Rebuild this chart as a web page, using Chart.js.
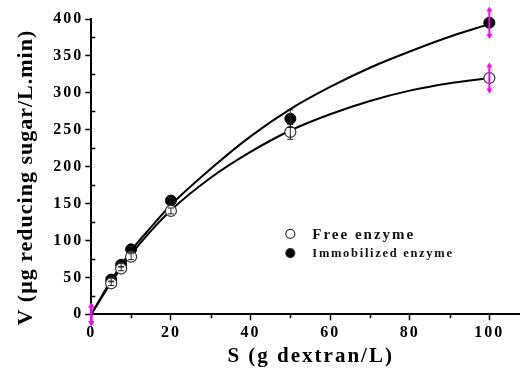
<!DOCTYPE html>
<html>
<head>
<meta charset="utf-8">
<script src="https://cdn.jsdelivr.net/npm/chart.js@4"></script>
<style>
    html, body { margin: 0; padding: 0; background: #fff; overflow: hidden; }
    #wrap { width: 520px; height: 369px; position: relative; }
</style>
</head>
<body>
<div id="wrap"><canvas id="myChart"></canvas></div>
<script>
// measured points
const sValues = [0, 5, 7.5, 10, 20, 50, 100];
const freeV = [0, 42, 62, 78, 140, 247, 320];
const immV = [0, 47, 67, 88, 154, 265, 395];
const freeErr = [12, 3, 3, 4, 4, 10, 17];
const immErr = [12, 3, 3, 4, 5, 12, 18];
const highlightS = [0, 100];

// fitted curves
const fitS = [0, 5, 10, 15, 20, 30, 40, 50, 60, 70, 80, 90, 100];
const freeFit = [0, 43, 81, 113, 141, 185, 220, 249, 271, 289, 303, 313, 320];
const immFit = [0, 46, 86, 118, 148, 197, 241, 278, 308, 334, 356, 376, 393];

const xTicks = [0, 20, 40, 60, 80, 100];
const xMinor = [10, 30, 50, 70, 90];
const yTicks = [0, 50, 100, 150, 200, 250, 300, 350, 400];
const yMinor = [25, 75, 125, 175, 225, 275, 325, 375];

const labels = ["Free enzyme", "Immobilized enzyme"];
const xTitle = "S (g dextran/L)";
const yTitle = "V (\u03bcg reducing sugar/L.min)";

const serif = "'Liberation Serif', 'Times New Roman', serif";

let pts = (xs, ys) => xs.map((x, i) => ({ x: x, y: ys[i] }));
let hideAtZero = (r) => (c) => (c.raw && c.raw.x === 0 ? 0 : r);

const extras = {
    id: "extras",
    beforeDraw(chart) {
        chart.ctx.letterSpacing = "2px";
    },
    afterDatasetsDraw(chart) {
        let ctx = chart.ctx;
        let xs = chart.scales.x, ys = chart.scales.y;
        ctx.save();
        [[freeV, freeErr], [immV, immErr]].forEach(([vals, errs]) => {
            sValues.forEach((s, i) => {
                let px = xs.getPixelForValue(s);
                let top = ys.getPixelForValue(vals[i] + errs[i]);
                let bot = ys.getPixelForValue(vals[i] - errs[i]);
                let hl = highlightS.includes(s);
                ctx.strokeStyle = hl ? "#ff00ff" : "#222";
                ctx.fillStyle = "#ff00ff";
                ctx.lineWidth = hl ? 2 : 1;
                ctx.beginPath();
                ctx.moveTo(px, top);
                ctx.lineTo(px, bot);
                ctx.stroke();
                if (hl) {
                    [[top, -1], [bot, 1]].forEach(([y, d]) => {
                        ctx.beginPath();
                        ctx.moveTo(px, y + d * 3);
                        ctx.lineTo(px - 3, y - d * 2);
                        ctx.lineTo(px + 3, y - d * 2);
                        ctx.closePath();
                        ctx.fill();
                    });
                } else {
                    ctx.beginPath();
                    ctx.moveTo(px - 3, top);
                    ctx.lineTo(px + 3, top);
                    ctx.moveTo(px - 3, bot);
                    ctx.lineTo(px + 3, bot);
                    ctx.stroke();
                }
            });
        });
        ctx.restore();
    },
    afterDraw(chart) {
        let ctx = chart.ctx;
        let xs = chart.scales.x, ys = chart.scales.y;
        let area = chart.chartArea;
        ctx.save();

        // minor ticks
        ctx.strokeStyle = "#000";
        ctx.lineWidth = 1.5;
        ctx.beginPath();
        xMinor.forEach(v => {
            let px = Math.round(xs.getPixelForValue(v)) + 0.5;
            ctx.moveTo(px, area.bottom);
            ctx.lineTo(px, area.bottom + 4);
        });
        yMinor.forEach(v => {
            let py = Math.round(ys.getPixelForValue(v)) + 0.5;
            ctx.moveTo(area.left, py);
            ctx.lineTo(area.left + 4, py);
        });
        ctx.stroke();

        // axis titles
        ctx.fillStyle = "#000";
        ctx.letterSpacing = "2px";
        ctx.font = "bold 21px " + serif;
        ctx.textAlign = "center";
        ctx.textBaseline = "alphabetic";
        ctx.fillText(xTitle, (area.left + area.right) / 2 + 5, area.bottom + 48);

        ctx.save();
        ctx.translate(area.left - 59, (area.top + area.bottom) / 2 + 11);
        ctx.rotate(-Math.PI / 2);
        ctx.letterSpacing = "1px";
        ctx.font = "bold 22px " + serif;
        ctx.fillText(yTitle, 0, 0);
        ctx.restore();

        // legend
        let lx = xs.getPixelForValue(50);
        let rows = [
            { y: ys.getPixelForValue(109), fill: "#fff", font: "bold 15px " + serif, spacing: "2px" },
            { y: ys.getPixelForValue(83), fill: "#000", font: "bold 12.5px " + serif, spacing: "1.7px" }
        ];
        rows.forEach((r, i) => {
            ctx.beginPath();
            ctx.arc(lx, r.y, 4.5, 0, Math.PI * 2);
            ctx.fillStyle = r.fill;
            ctx.fill();
            ctx.lineWidth = 1.2;
            ctx.strokeStyle = "#333";
            ctx.stroke();
            ctx.fillStyle = "#111";
            ctx.font = r.font;
            ctx.letterSpacing = r.spacing;
            ctx.textAlign = "left";
            ctx.textBaseline = "middle";
            ctx.fillText(labels[i], lx + 22, r.y + 1);
        });
        ctx.restore();
    }
};

const config = {
    type: "scatter",
    data: {
        datasets: [
            {
                label: labels[0],
                data: pts(sValues, freeV),
                pointStyle: "circle",
                pointRadius: hideAtZero(5.5),
                pointBackgroundColor: "#fff",
                pointBorderColor: "#333",
                pointBorderWidth: 1.2,
                order: 0
            },
            {
                label: labels[1],
                data: pts(sValues, immV),
                pointStyle: "circle",
                pointRadius: hideAtZero(5.5),
                pointBackgroundColor: "#000",
                pointBorderColor: "#000",
                pointBorderWidth: 1,
                order: 0
            },
            {
                label: "free fit",
                data: pts(fitS, freeFit),
                showLine: true,
                pointRadius: 0,
                borderColor: "#000",
                borderWidth: 2,
                cubicInterpolationMode: "monotone",
                order: 1
            },
            {
                label: "immobilized fit",
                data: pts(fitS, immFit),
                showLine: true,
                pointRadius: 0,
                borderColor: "#000",
                borderWidth: 2,
                cubicInterpolationMode: "monotone",
                order: 1
            }
        ]
    },
    options: {
        responsive: true,
        maintainAspectRatio: false,
        animation: false,
        clip: false,
        layout: { autoPadding: false, padding: { top: 19, left: 0, right: 0, bottom: 0 } },
        plugins: {
            legend: { display: false },
            tooltip: { enabled: false }
        },
        scales: {
            x: {
                type: "linear",
                min: 0,
                max: 107.7,
                afterBuildTicks: s => { s.ticks = xTicks.map(v => ({ value: v })); },
                afterFit: s => { s.height = 54.7; s.paddingRight = 0; s.paddingLeft = 0; },
                border: { display: true, color: "#000", width: 2 },
                grid: { drawOnChartArea: false, drawTicks: true, tickLength: 6, tickColor: "#000", tickWidth: 1.5 },
                ticks: {
                    color: "#000",
                    padding: 3,
                    maxRotation: 0,
                    autoSkip: false,
                    includeBounds: false,
                    font: { family: serif, size: 16, weight: "bold" }
                }
            },
            y: {
                type: "linear",
                min: 0,
                max: 400,
                afterBuildTicks: s => { s.ticks = yTicks.map(v => ({ value: v })); },
                afterFit: s => { s.width = 91.3; },
                border: { display: true, color: "#000", width: 2 },
                grid: { drawOnChartArea: false, drawTicks: true, tickLength: 6, tickColor: "#000", tickWidth: 1.5 },
                ticks: {
                    color: "#000",
                    padding: 2,
                    autoSkip: false,
                    includeBounds: false,
                    font: { family: serif, size: 16, weight: "bold" }
                }
            }
        }
    },
    plugins: [extras]
};

const myChart = new Chart(document.getElementById("myChart"), config);
</script>
</body>
</html>
